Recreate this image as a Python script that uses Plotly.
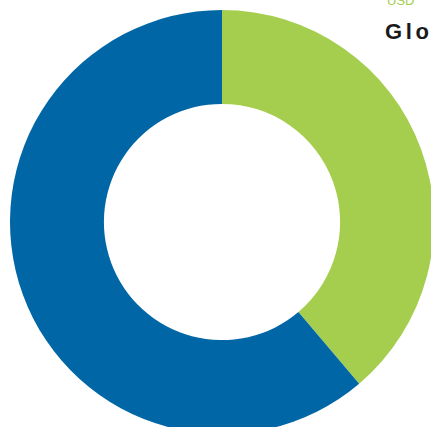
import plotly.graph_objects as go

labels = ["Global share", "Rest"]
values = [38.8, 61.2]
colors = ["#A5CE4F", "#0066A6"]
header_top = "USD"
header_main = "G\u2006l\u2006o\u2006b\u2006a\u2006l"

W, H = 444, 444
fig = go.Figure(go.Pie(
    labels=labels, values=values, hole=0.557, sort=False, direction="clockwise",
    rotation=0, marker=dict(colors=colors, line=dict(width=0)),
    textinfo="none", hoverinfo="label+percent",
    domain=dict(x=[10/W, 434/W], y=[1-434/H, 1-10/H]),
))
fig.add_annotation(text=header_top, x=386/W, y=1-9/H, xref="paper", yref="paper",
                   xanchor="left", yanchor="bottom", showarrow=False, borderpad=0,
                   font=dict(family="Liberation Sans, Arial, sans-serif", size=13, color="#A5CE4F"))
fig.add_annotation(text="<b>" + header_main + "</b>", x=384/W, y=1-45/H, xref="paper", yref="paper",
                   xanchor="left", yanchor="bottom", showarrow=False, borderpad=0,
                   font=dict(family="Liberation Sans, Arial, sans-serif", size=22, color="#1a1a1a"))
fig.update_layout(width=W, height=H, margin=dict(l=0, r=0, t=0, b=0),
                  showlegend=False, paper_bgcolor="white", plot_bgcolor="white")
fig.write_html("out.html", config={"displayModeBar": False},
               post_script="document.body.style.margin='0';document.body.style.overflow='hidden';document.documentElement.style.overflow='hidden';")
